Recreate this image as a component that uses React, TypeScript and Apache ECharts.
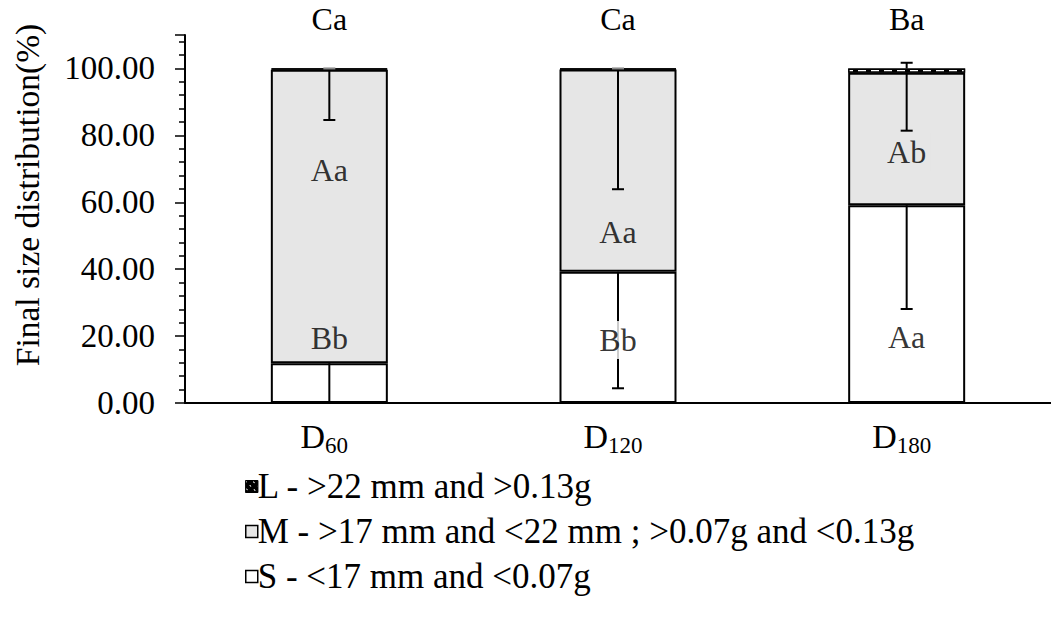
import React, { useEffect, useRef } from "react";
import * as echarts from "echarts";

const categories = ["D60", "D120", "D180"];
const subscripts = ["60", "120", "180"];
const sValues = [11.9, 39.2, 59.1];
const mValues = [87.7, 60.5, 39.6];
const lValues = [0.4, 0.3, 1.3];
const sErrMinus = [13.0, 34.8, 31.0];
const mErrMinus = [15.0, 35.8, 17.3];
const lErrPlus = [0, 0, 1.7];
const topLetters = ["Ca", "Ca", "Ba"];
const mLetters = ["Aa", "Aa", "Ab"];
const mLetterY = [69.6, 51.0, 75.0];
const sLetters = ["Bb", "Bb", "Aa"];
const sLetterY = [19.4, 18.8, 19.7];
const seriesNames = [
  "L - >22 mm and >0.13g",
  "M - >17 mm and <22 mm ; >0.07g and <0.13g",
  "S - <17 mm and <0.07g",
];
const yAxisTitle = "Final size distribution(%)";

const FONT = "Liberation Serif";
const GRAY = "#e6e6e6";

export default function App() {
  const ref = useRef<HTMLDivElement>(null);
  useEffect(() => {
    document.body.style.margin = "0";
    const chart = echarts.init(ref.current!, null, { renderer: "svg" });

    const errData: number[][] = [];
    categories.forEach((_, i) => {
      const s = sValues[i];
      const sm = s + mValues[i];
      const top = sm + lValues[i];
      const sLo = s - sErrMinus[i];
      errData.push([i, s, Math.max(0, sLo), 0, sLo >= 0 ? 1 : 0]);
      errData.push([i, sm, sm - mErrMinus[i], 0, 1]);
      errData.push([i, top + lErrPlus[i], top, 1, 0]);
    });

    const labelData: any[] = [];
    categories.forEach((_, i) => {
      labelData.push({
        value: [i, sLetterY[i]],
        name: sLetters[i],
        label: { backgroundColor: sLetterY[i] < sValues[i] ? "#fff" : GRAY },
      });
      labelData.push({
        value: [i, mLetterY[i]],
        name: mLetters[i],
        label: { backgroundColor: GRAY },
      });
    });

    const option: any = {
      animation: false,
      backgroundColor: "#fff",
      textStyle: { fontFamily: FONT },
      grid: { left: 185, top: 35, bottom: 218, right: -7, containLabel: false },
      graphic: [
        {
          type: "text",
          x: 27,
          y: 195,
          rotation: Math.PI / 2,
          style: {
            text: yAxisTitle,
            fontFamily: FONT,
            fontSize: 33.5,
            fill: "#000",
            align: "center",
            verticalAlign: "middle",
          },
        },
      ],
      legend: {
        orient: "vertical",
        left: 240,
        top: 464,
        itemWidth: 12,
        itemHeight: 12,
        itemGap: 10,
        selectedMode: false,
        textStyle: { fontFamily: FONT, fontSize: 35, color: "#000", lineHeight: 35, padding: [0, 0, 0, -5] },
        data: [
          {
            name: seriesNames[0],
            icon: "rect",
            itemStyle: {
              color: "#000",
              borderColor: "#000",
              borderWidth: 1,
              decal: { symbol: "rect", color: "#fff", dashArrayX: [[2, 4]], dashArrayY: [1, 4], rotation: Math.PI / 4 },
            },
          },
          { name: seriesNames[1], icon: "rect", itemStyle: { color: GRAY, borderColor: "#000", borderWidth: 1.5 } },
          { name: seriesNames[2], icon: "rect", itemStyle: { color: "#fff", borderColor: "#000", borderWidth: 1.5 } },
        ],
      },
      xAxis: [
        {
          type: "category",
          data: categories,
          axisLine: { lineStyle: { color: "#000", width: 2 } },
          axisTick: { inside: true, length: 9, lineStyle: { color: "#000", width: 2 } },
          axisLabel: {
            margin: 16,
            padding: [0, 10, 0, 0],
            formatter: (_v: string, idx: number) => `{d|D}{s|${subscripts[idx]}}`,
            rich: {
              d: { fontFamily: FONT, fontSize: 34, color: "#000", lineHeight: 34, verticalAlign: "top" },
              s: { fontFamily: FONT, fontSize: 23, color: "#000", lineHeight: 23, padding: [15, 0, 0, 0], verticalAlign: "top" },
            },
          },
          splitLine: { show: false },
        },
        {
          type: "category",
          data: categories,
          position: "bottom",
          axisLine: { show: false },
          axisTick: { alignWithLabel: true, inside: false, length: 8, lineStyle: { color: "#000", width: 2 } },
          axisLabel: { show: false },
          splitLine: { show: false },
        },
      ],
      yAxis: {
        type: "value",
        min: 0,
        max: 110,
        interval: 20,
        axisLine: { show: true, lineStyle: { color: "#000", width: 2 } },
        axisTick: { show: true, inside: false, length: 10, lineStyle: { color: "#000", width: 1.5 } },
        minorTick: { show: true, splitNumber: 5, length: 6, lineStyle: { color: "#000", width: 1.5 } },
        splitLine: { show: false },
        axisLabel: {
          showMaxLabel: false,
          margin: 30,
          fontFamily: FONT,
          fontSize: 33,
          color: "#000",
          formatter: (v: number) => v.toFixed(2),
        },
      },
      series: [
        {
          name: seriesNames[2],
          type: "bar",
          stack: "a",
          barWidth: 117,
          data: sValues,
          itemStyle: { color: "#fff", borderColor: "#000", borderWidth: 2 },
          z: 2,
        },
        {
          name: seriesNames[1],
          type: "bar",
          stack: "a",
          barWidth: 117,
          data: mValues,
          itemStyle: { color: GRAY, borderColor: "#000", borderWidth: 2 },
          z: 2,
        },
        {
          name: seriesNames[0],
          type: "bar",
          stack: "a",
          barWidth: 117,
          data: lValues,
          itemStyle: {
            color: "#000",
            borderColor: "#000",
            borderWidth: 1.5,
            decal: { symbol: "rect", color: "#fff", dashArrayX: [[8, 5]], dashArrayY: [1.5, 3], rotation: 0 },
          },
          label: {
            show: true,
            position: "top",
            distance: 33,
            fontFamily: FONT,
            fontSize: 32,
            color: "#000",
            formatter: (p: any) => topLetters[p.dataIndex],
          },
          z: 2,
        },
        {
          type: "custom",
          data: errData,
          z: 3,
          silent: true,
          encode: { x: 0, y: [1, 2] },
          renderItem: (_params: any, api: any) => {
            const i = api.value(0);
            const hi = api.value(1);
            const lo = api.value(2);
            const capHi = api.value(3);
            const capLo = api.value(4);
            const pHi = api.coord([i, hi]);
            const pLo = api.coord([i, lo]);
            const zero = Math.abs(hi - lo) < 1e-6;
            const col = zero ? "#888" : "#000";
            const children: any[] = [];
            if (!zero) {
              children.push({
                type: "line",
                shape: { x1: pHi[0], y1: pHi[1], x2: pLo[0], y2: pLo[1] },
                style: { stroke: col, lineWidth: 2 },
              });
            }
            const hw = 6;
            if (capHi) {
              children.push({
                type: "line",
                shape: { x1: pHi[0] - hw, y1: pHi[1], x2: pHi[0] + hw, y2: pHi[1] },
                style: { stroke: col, lineWidth: 2 },
              });
            }
            if (capLo) {
              children.push({
                type: "line",
                shape: { x1: pLo[0] - hw, y1: pLo[1], x2: pLo[0] + hw, y2: pLo[1] },
                style: { stroke: col, lineWidth: 2 },
              });
            }
            return { type: "group", children };
          },
        },
        {
          type: "scatter",
          data: labelData,
          symbolSize: 0,
          z: 4,
          silent: true,
          clip: false,
          label: {
            show: true,
            position: "inside",
            fontFamily: FONT,
            fontSize: 32,
            color: "#000",
            padding: [3, 4],
            formatter: (p: any) => p.name,
          },
        },
      ],
    };
    chart.setOption(option);
    return () => chart.dispose();
  }, []);
  return <div ref={ref} style={{ width: 1051, height: 621 }} />;
}
